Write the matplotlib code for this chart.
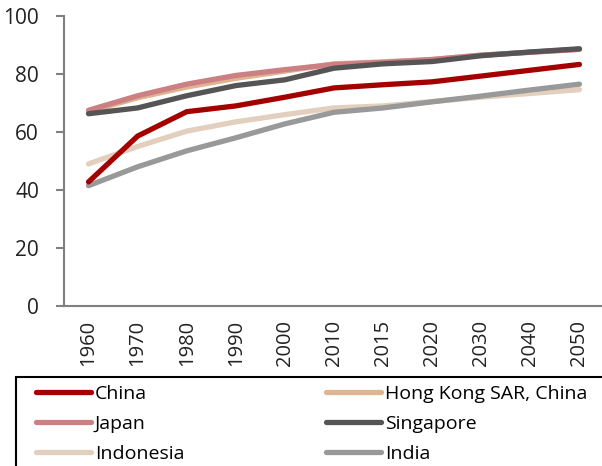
import matplotlib
matplotlib.use("Agg")
import matplotlib.pyplot as plt
from matplotlib.patches import Rectangle

plt.rcParams['font.family'] = ['Open Sans', 'DejaVu Sans']

years = ["1960", "1970", "1980", "1990", "2000", "2010", "2015", "2020", "2030", "2040", "2050"]
china = [42.8, 58.6, 67.0, 69.0, 72.0, 75.2, 76.3, 77.3, 79.3, 81.3, 83.3]
hong_kong = [67.0, 71.8, 75.5, 78.5, 81.0, 83.5, 84.2, 85.0, 86.5, 87.5, 88.5]
japan = [67.5, 72.5, 76.5, 79.5, 81.5, 83.3, 84.0, 85.0, 86.5, 87.5, 88.5]
singapore = [66.3, 68.3, 72.5, 76.0, 78.0, 82.0, 83.5, 84.3, 86.3, 87.6, 88.7]
indonesia = [49.0, 55.0, 60.3, 63.5, 66.0, 68.3, 69.0, 70.5, 72.0, 73.3, 74.6]
india = [41.5, 48.0, 53.5, 58.0, 62.8, 66.8, 68.3, 70.4, 72.4, 74.5, 76.5]

series = {
    "China": (china, "#A50000", 6),
    "Hong Kong SAR, China": (hong_kong, "#DFB48F", 2),
    "Japan": (japan, "#CC8084", 3),
    "Singapore": (singapore, "#555555", 4),
    "Indonesia": (indonesia, "#E2CFBD", 1),
    "India": (india, "#999999", 5),
}

fig = plt.figure(figsize=(6.02, 4.66), dpi=100)
ax = fig.add_axes([64/602, 160/466, 540/602, 290/466])

x = list(range(len(years)))
lines = {}
for name, (vals, col, z) in series.items():
    ln, = ax.plot(x, vals, color=col, lw=3.8, label=name, zorder=z, solid_capstyle='round')
    lines[name] = ln

ax.set_xlim(-0.5, len(years) - 0.5)
ax.set_ylim(0, 100)
ax.set_yticks([0, 20, 40, 60, 80, 100])
ax.set_xticks(x)
ax.set_xticklabels(years, rotation=90)
for s in ["top", "right"]:
    ax.spines[s].set_visible(False)
for s in ["left", "bottom"]:
    ax.spines[s].set_color("#808080")
    ax.spines[s].set_linewidth(1.5)
ax.tick_params(axis='y', length=6, width=1.5, colors="#808080", labelcolor="#222222", labelsize=15, pad=12)
ax.tick_params(axis='x', length=0, labelsize=14.5, labelcolor="#222222", pad=10)

# legend frame
fig.patches.append(Rectangle((16/602, -0.05), 0.99, (466 - 377)/466 + 0.05,
                             transform=fig.transFigure, fill=False, edgecolor="black", lw=1.5))

order = ["China", "Japan", "Indonesia", "Hong Kong SAR, China", "Singapore", "India"]
leg = fig.legend([lines[n] for n in order], order, ncol=2, frameon=False,
                 loc='upper left', bbox_to_anchor=(26/602, 1 - 375/466),
                 fontsize=14, handlelength=2.83, handletextpad=0.2,
                 columnspacing=7.3, labelspacing=0.63, borderpad=0)

fig.savefig("out.png", dpi=100)
